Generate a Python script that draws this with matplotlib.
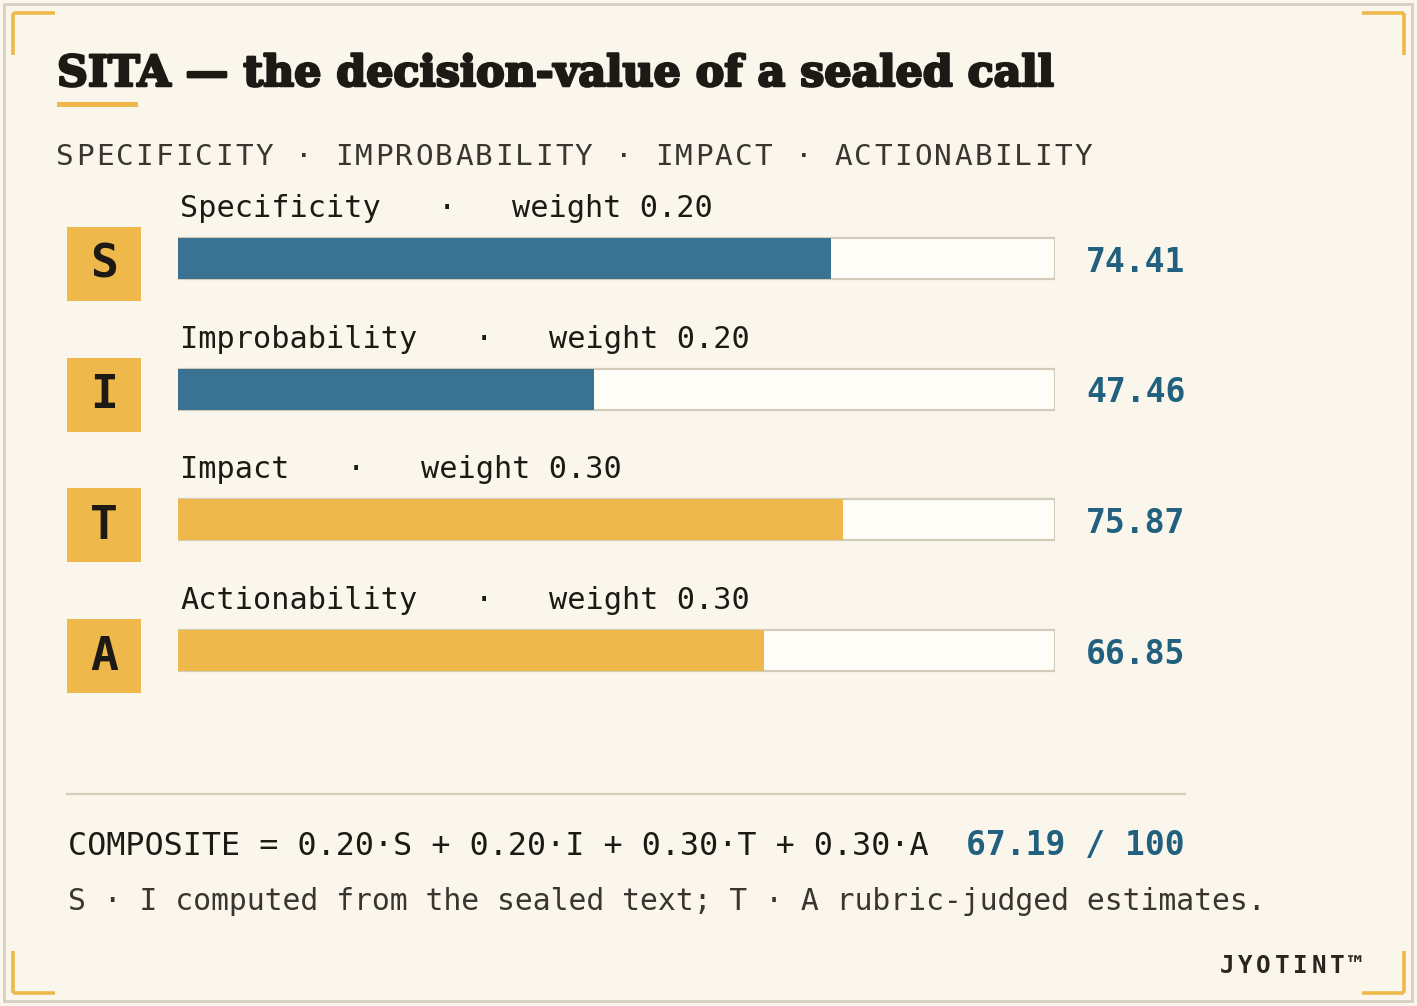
import matplotlib
matplotlib.use("Agg")
import matplotlib.pyplot as plt
from matplotlib.patches import Rectangle
import matplotlib.patheffects as pe

# ---------------- data ----------------
categories = ["Specificity", "Improbability", "Impact", "Actionability"]
letters = ["S", "I", "T", "A"]
weights = [0.20, 0.20, 0.30, 0.30]
scores = [74.41, 47.46, 75.87, 66.85]
groups = ["computed", "computed", "judged", "judged"]
composite_max = 100

title = "SITA \u2014 the decision-value of a sealed call"
subtitle = "SPECIFICITY \u00b7 IMPROBABILITY \u00b7 IMPACT \u00b7 ACTIONABILITY"
footnote = "S \u00b7 I computed from the sealed text; T \u00b7 A rubric-judged estimates."
brand = "JYOTINT\u2122"

# ---------------- style ----------------
BG = "#faf6eb"
INK = "#1d1a16"
SUB = "#3a3530"
BLUE_BAR = "#3a7291"
GOLD = "#efb84a"
BLUE_TXT = "#22607f"
TRACK_EDGE = "#d4ccbb"
BORDER = "#d6d0c2"
group_color = {"computed": BLUE_BAR, "judged": GOLD}
MONO = "DejaVu Sans Mono"

W, H = 1417, 1006
fig = plt.figure(figsize=(W / 100, H / 100), dpi=100, facecolor=BG)
ax0 = fig.add_axes([0, 0, 1, 1])
ax0.set_xlim(0, W)
ax0.set_ylim(H, 0)
ax0.axis("off")
ax0.set_facecolor(BG)

# outer border
ax0.add_patch(Rectangle((4, 4), W - 9, H - 9, fill=False, ec=BORDER, lw=2))
# corner brackets
bl = 42
for (cx, cy, dx, dy) in [(13, 13, 1, 1), (1404, 13, -1, 1), (13, 993, 1, -1), (1404, 993, -1, -1)]:
    ax0.plot([cx, cx + dx * bl], [cy, cy], color=GOLD, lw=2.6, solid_capstyle="butt")
    ax0.plot([cx, cx], [cy, cy + dy * bl], color=GOLD, lw=2.6, solid_capstyle="butt")

# title, fitted to width
t = ax0.text(57, 86, title, fontfamily="DejaVu Serif", fontweight="bold",
             fontsize=30, color=INK, ha="left", va="baseline")
t.set_path_effects([pe.withStroke(linewidth=1.8, foreground=INK)])
r = fig.canvas.get_renderer()
wpx = t.get_window_extent(renderer=r).width
t.set_fontsize(30 * 996 / wpx)
ax0.add_patch(Rectangle((57, 102), 81, 5, color=GOLD, lw=0))


def spaced(x0, y, s, pitch, **kw):
    for i, ch in enumerate(s):
        ax0.text(x0 + i * pitch, y, ch, ha="center", va="baseline", **kw)


# subtitle (letter-spaced)
spaced(64.5, 165, subtitle, 19.97, fontfamily=MONO, fontsize=21.2, color=SUB)

# ---------------- bars ----------------
row0, pitch = 258.5, 130.67
n = len(categories)
top_px = row0 - pitch / 2
bot_px = row0 + pitch * (n - 0.5)
bx0, bx1 = 178, 1055
axb = fig.add_axes([bx0 / W, 1 - bot_px / H, (bx1 - bx0) / W, (bot_px - top_px) / H])
axb.set_xlim(0, composite_max)
axb.set_ylim(n - 0.5, -0.5)
axb.axis("off")
axb.patch.set_alpha(0)
rows = list(range(n))
bh = 41 / pitch
axb.barh(rows, [composite_max] * n, height=bh, left=0, color="#fffdf8",
         edgecolor=TRACK_EDGE, linewidth=1.6)
axb.barh(rows, scores, height=bh, left=0,
         color=[group_color[g] for g in groups], linewidth=0)

lab_px = 30.23
lab_fs = lab_px * 0.72
adv = 18.2
for i, (cat, let, w, s) in enumerate(zip(categories, letters, weights, scores)):
    yc = row0 + pitch * i
    # letter box
    ax0.add_patch(Rectangle((67, yc + 5.5 - 37), 74, 74, color=GOLD, lw=0))
    ax0.text(104, yc + 6.5, let, ha="center", va="center", fontfamily=MONO,
             fontweight="bold", fontsize=33.5, color=INK)
    # label
    lb = yc - 41.5
    ax0.text(180, lb, cat, ha="left", va="baseline", fontfamily=MONO,
             fontsize=lab_fs, color=INK)
    lab_end = 180 + len(cat) * adv
    dot_c = lab_end + 67
    ax0.text(dot_c, lb, "\u00b7", ha="center", va="baseline", fontfamily=MONO,
             fontsize=lab_fs, color=INK)
    ax0.text(dot_c + 65, lb, f"weight {w:.2f}", ha="left", va="baseline",
             fontfamily=MONO, fontsize=lab_fs, color=INK)
    # value
    ax0.text(1086, yc + 13, f"{s:.2f}", ha="left", va="baseline", fontfamily=MONO,
             fontweight="bold", fontsize=23.8, color=BLUE_TXT)

# divider
ax0.plot([67, 1185], [794, 794], color=TRACK_EDGE, lw=1.6)

# composite
composite = sum(w * s for w, s in zip(weights, scores))
formula = "COMPOSITE = " + " + ".join(f"{w:.2f}\u00b7{l}" for w, l in zip(weights, letters))
ax0.text(68, 855, formula, ha="left", va="baseline", fontfamily=MONO,
         fontsize=22.85, color=INK)
ax0.text(1185, 855, f"{composite:.2f} / {composite_max}", ha="right", va="baseline",
         fontfamily=MONO, fontweight="bold", fontsize=23.8, color=BLUE_TXT)

# footnote
ax0.text(68, 910, footnote, ha="left", va="baseline", fontfamily=MONO,
         fontsize=21.4, color=SUB)

# brand
spaced(1227, 973, brand, 18.3, fontfamily=MONO, fontweight="bold",
       fontsize=17.5, color="#2a2520")

fig.savefig("out.png", dpi=100, facecolor=BG)
